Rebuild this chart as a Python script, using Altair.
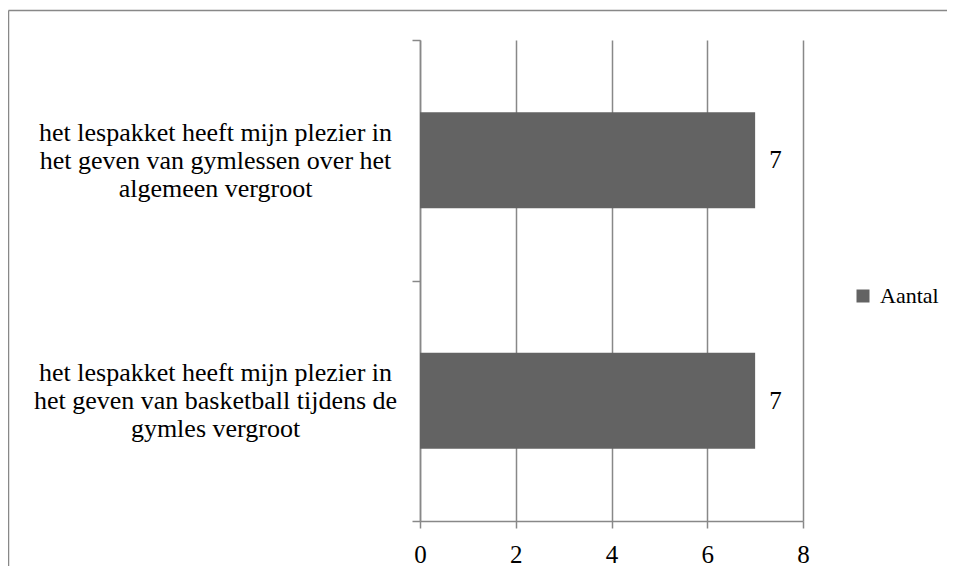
import altair as alt
import pandas as pd

categories = [
    "het lespakket heeft mijn plezier in|het geven van gymlessen over het|algemeen vergroot",
    "het lespakket heeft mijn plezier in|het geven van basketball tijdens de|gymles vergroot",
]
values = [7, 7]
series = ["Aantal", "Aantal"]
x_ticks = [0, 2, 4, 6, 8]

df = pd.DataFrame({"cat": categories, "val": values, "series": series})

FONT = "Liberation Serif"
GRAY = "#888888"
BAR = "#636363"

y_enc = alt.Y(
    "cat:N", sort=categories, title=None,
    scale=alt.Scale(paddingInner=0, paddingOuter=0),
    axis=alt.Axis(
        labelExpr="split(datum.label, '|')", labelAlign="center", labelPadding=197,
        labelFontSize=26, labelFont=FONT, labelColor="black", labelLineHeight=28,
        labelBaseline="middle", labelOffset=-28, tickBand="extent", tickSize=8,
        tickColor=GRAY, tickWidth=1.5, domainColor=GRAY, domainWidth=1.5,
        grid=False, labelLimit=0,
    ),
)
x_enc = alt.X(
    "val:Q", title=None, scale=alt.Scale(domain=[0, 8]),
    axis=alt.Axis(
        values=x_ticks, grid=True, gridColor=GRAY, gridWidth=1.5, tickSize=7,
        tickColor=GRAY, tickWidth=1.5, domainColor=GRAY, domainWidth=1.5,
        labelFontSize=25, labelFont=FONT, labelColor="black", labelPadding=14,
        labelFlush=False,
    ),
)

bars = alt.Chart(df).mark_bar(size=96, color=BAR).encode(
    x=x_enc, y=y_enc,
    color=alt.Color(
        "series:N", scale=alt.Scale(range=[BAR]),
        legend=alt.Legend(
            title=None, orient="none", legendX=432, legendY=245, padding=0,
            symbolType="square", symbolSize=169, symbolStrokeWidth=0,
            labelFontSize=22, labelFont=FONT, labelColor="black", labelOffset=6,
        ),
    ),
)
labels = alt.Chart(df).mark_text(align="left", dx=14, fontSize=25, font=FONT, color="black").encode(
    x=x_enc, y=y_enc, text="val:Q"
)

frame = pd.DataFrame({"k": [0]})
left_line = alt.Chart(frame).mark_rule(color=GRAY, strokeWidth=1.5).encode(
    x=alt.value(-411.5), y=alt.value(-29.5), y2=alt.value(600)
)
top_line = alt.Chart(frame).mark_rule(color=GRAY, strokeWidth=1.5).encode(
    x=alt.value(-411.5), x2=alt.value(1000), y=alt.value(-29.5)
)

chart = alt.layer(bars, labels, left_line, top_line).properties(
    width=383, height=481,
    autosize=alt.AutoSizeParams(type="none"),
    padding={"left": 412, "top": 32, "right": 144, "bottom": 45},
).configure(font=FONT).configure_axis(
    labelFont=FONT
).configure_legend(labelFont=FONT).configure_view(stroke=None)

chart.save("out.html", embed_options={"renderer": "svg", "actions": False})
